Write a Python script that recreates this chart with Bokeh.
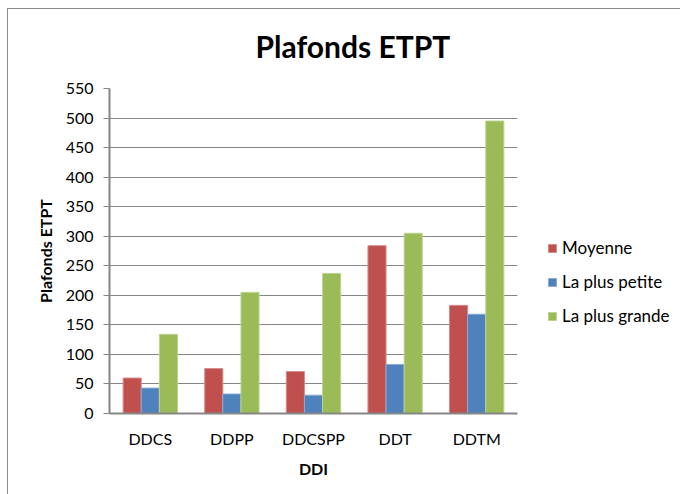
from bokeh.plotting import figure
from bokeh.layouts import row
from bokeh.models import (ColumnDataSource, FactorRange, Legend, LegendItem,
                          Title, InlineStyleSheet, SingleIntervalTicker)
from bokeh.transform import dodge
from bokeh.embed import file_html
from bokeh.resources import INLINE

# Plafonds ETPT par DDI
categories = ["DDCS", "DDPP", "DDCSPP", "DDT", "DDTM"]
moyenne = [60, 76, 71, 284, 183]
plus_petite = [43, 33, 31, 83, 168]
plus_grande = [134, 205, 237, 305, 495]
series_names = ["Moyenne", "La plus petite", "La plus grande"]

FONT = "Lato"
GRID = "#868686"
colors = ["#C0504D", "#4F81BD", "#9BBB59"]
edges = ["#D58B89", "#8AAAD6", "#BDD48F"]

source = ColumnDataSource(dict(cat=categories, moy=moyenne,
                               petite=plus_petite, grande=plus_grande))

# main chart
p = figure(x_range=FactorRange(*categories), y_range=(0, 550),
           width=547, height=494, output_backend="svg", toolbar_location=None,
           min_border_left=109, min_border_right=30,
           min_border_top=88, min_border_bottom=81)

p.title = Title(text="Plafonds ETPT", align="left", offset=146,
                text_font=FONT, text_font_size="30px", text_font_style="bold",
                text_color="#000000", standoff=50)

bw = 0.222
for field, off, col, edge in zip(["moy", "petite", "grande"], [-bw, 0, bw], colors, edges):
    p.vbar(x=dodge("cat", off, range=p.x_range), top=field, width=bw,
           source=source, fill_color=col, line_color=edge, line_width=1)

p.outline_line_color = None
p.background_fill_color = "white"
p.border_fill_color = "white"

p.xgrid.grid_line_color = None
p.ygrid.grid_line_color = GRID
p.ygrid.grid_line_width = 1
p.yaxis.ticker = SingleIntervalTicker(interval=50)

for ax in (p.xaxis[0], p.yaxis[0]):
    ax.axis_line_color = GRID
    ax.axis_line_width = 2
    ax.major_label_text_font = FONT
    ax.major_label_text_font_size = "16px"
    ax.major_label_text_color = "#000000"
    ax.axis_label_text_font = FONT
    ax.axis_label_text_font_size = "16px"
    ax.axis_label_text_font_style = "bold"
    ax.axis_label_text_color = "#000000"
    ax.minor_tick_line_color = None

p.yaxis.major_tick_line_color = GRID
p.yaxis.major_tick_in = 0
p.yaxis.major_tick_out = 6
p.yaxis.major_label_standoff = 10
p.yaxis.axis_label = "Plafonds ETPT"
p.yaxis.axis_label_standoff = 8

p.xaxis.major_tick_line_color = None
p.xaxis.major_tick_in = 0
p.xaxis.major_tick_out = 0
p.xaxis.major_label_standoff = 15
p.xaxis.axis_label = "DDI"
p.xaxis.axis_label_standoff = 8

# legend panel to the right of the chart
lg = figure(x_range=(0, 1), y_range=(0, 1), width=133, height=494,
            output_backend="svg", toolbar_location=None,
            min_border=0, min_border_left=0, min_border_right=0,
            min_border_top=0, min_border_bottom=0)
lg.axis.visible = False
lg.grid.grid_line_color = None
lg.outline_line_color = None
lg.background_fill_color = "white"
lg.border_fill_color = "white"

# swatch renderers sit outside the visible range; only their legend glyphs show
offscreen = ColumnDataSource(dict(x=[5], top=[5]))
swatches = [lg.vbar(x="x", top="top", width=0.1, source=offscreen,
                    fill_color=c, line_color=e) for c, e in zip(colors, edges)]

legend = Legend(items=[LegendItem(label=n, renderers=[r]) for n, r in zip(series_names, swatches)],
                location=(0, 87), orientation="vertical",
                margin=0, padding=0, spacing=13, glyph_width=10, glyph_height=10,
                label_height=20, label_standoff=5,
                label_text_font=FONT, label_text_font_size="17px",
                label_text_color="#000000", border_line_color=None,
                background_fill_alpha=0)
lg.add_layout(legend)

layout = row(p, lg, spacing=0)

# chart-area border
layout.stylesheets = [InlineStyleSheet(css="""
:host { position: relative; }
:host::after { content: ''; position: absolute; left: 7px; top: 8px;
  width: 800px; height: 600px; border: 1px solid #8c8c8c; pointer-events: none; }
""")]

open("out.html", "w").write(file_html(layout, INLINE))
